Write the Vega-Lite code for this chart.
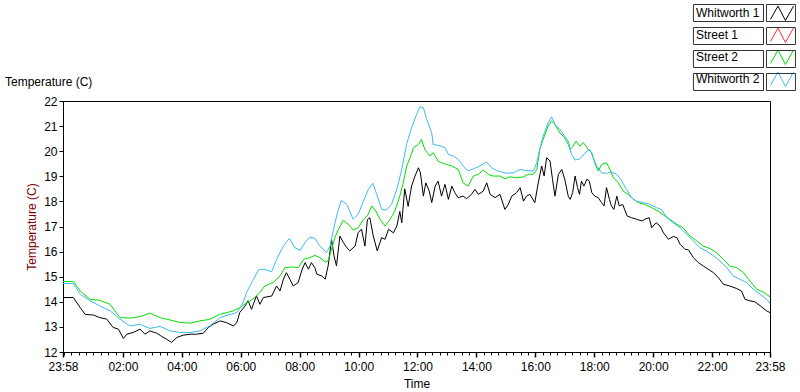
{
"$schema":"https://vega.github.io/schema/vega-lite/v6.json",
"width":707,"height":251,
"autosize":{"type":"none"},
"padding":{"left":63,"top":101,"right":30,"bottom":39},
"background":"white",
"title":{"text":"Temperature (C)","anchor":"start","frame":"group","dx":-58,"offset":-100,"baseline":"bottom","fontSize":12,"font":"Liberation Sans","fontWeight":"normal","color":"black"},
"config":{"view":{"stroke":"black","strokeWidth":1},
"axis":{"grid":false,"domainColor":"black","tickColor":"black","labelColor":"black","labelFont":"Liberation Sans","labelFontSize":12,"titleFont":"Liberation Sans","titleFontSize":12,"titleFontWeight":"normal","titleColor":"black"}},
"datasets":{"d":[
{"s":"Whitworth 1","t":"2024-01-01T23:58","v":14.17},
{"s":"Whitworth 1","t":"2024-01-02T00:19","v":14.17},
{"s":"Whitworth 1","t":"2024-01-02T00:33","v":13.77},
{"s":"Whitworth 1","t":"2024-01-02T00:43","v":13.5},
{"s":"Whitworth 1","t":"2024-01-02T01:00","v":13.47},
{"s":"Whitworth 1","t":"2024-01-02T01:13","v":13.37},
{"s":"Whitworth 1","t":"2024-01-02T01:27","v":13.31},
{"s":"Whitworth 1","t":"2024-01-02T01:40","v":12.98},
{"s":"Whitworth 1","t":"2024-01-02T01:51","v":12.91},
{"s":"Whitworth 1","t":"2024-01-02T02:01","v":12.54},
{"s":"Whitworth 1","t":"2024-01-02T02:08","v":12.71},
{"s":"Whitworth 1","t":"2024-01-02T02:21","v":12.78},
{"s":"Whitworth 1","t":"2024-01-02T02:35","v":12.91},
{"s":"Whitworth 1","t":"2024-01-02T02:45","v":12.71},
{"s":"Whitworth 1","t":"2024-01-02T02:55","v":12.84},
{"s":"Whitworth 1","t":"2024-01-02T03:09","v":12.75},
{"s":"Whitworth 1","t":"2024-01-02T03:19","v":12.62},
{"s":"Whitworth 1","t":"2024-01-02T03:29","v":12.51},
{"s":"Whitworth 1","t":"2024-01-02T03:39","v":12.38},
{"s":"Whitworth 1","t":"2024-01-02T03:50","v":12.58},
{"s":"Whitworth 1","t":"2024-01-02T04:03","v":12.67},
{"s":"Whitworth 1","t":"2024-01-02T04:17","v":12.71},
{"s":"Whitworth 1","t":"2024-01-02T04:30","v":12.71},
{"s":"Whitworth 1","t":"2024-01-02T04:44","v":12.75},
{"s":"Whitworth 1","t":"2024-01-02T04:54","v":12.98},
{"s":"Whitworth 1","t":"2024-01-02T05:04","v":13.11},
{"s":"Whitworth 1","t":"2024-01-02T05:18","v":13.24},
{"s":"Whitworth 1","t":"2024-01-02T05:31","v":13.17},
{"s":"Whitworth 1","t":"2024-01-02T05:45","v":13.04},
{"s":"Whitworth 1","t":"2024-01-02T05:52","v":13.17},
{"s":"Whitworth 1","t":"2024-01-02T05:58","v":13.57},
{"s":"Whitworth 1","t":"2024-01-02T06:09","v":13.84},
{"s":"Whitworth 1","t":"2024-01-02T06:15","v":14.04},
{"s":"Whitworth 1","t":"2024-01-02T06:22","v":13.7},
{"s":"Whitworth 1","t":"2024-01-02T06:32","v":14.24},
{"s":"Whitworth 1","t":"2024-01-02T06:39","v":13.9},
{"s":"Whitworth 1","t":"2024-01-02T06:46","v":14.17},
{"s":"Whitworth 1","t":"2024-01-02T07:03","v":14.23},
{"s":"Whitworth 1","t":"2024-01-02T07:13","v":14.63},
{"s":"Whitworth 1","t":"2024-01-02T07:20","v":14.43},
{"s":"Whitworth 1","t":"2024-01-02T07:27","v":14.9},
{"s":"Whitworth 1","t":"2024-01-02T07:33","v":15.16},
{"s":"Whitworth 1","t":"2024-01-02T07:40","v":14.9},
{"s":"Whitworth 1","t":"2024-01-02T07:47","v":14.63},
{"s":"Whitworth 1","t":"2024-01-02T07:57","v":14.77},
{"s":"Whitworth 1","t":"2024-01-02T08:04","v":15.23},
{"s":"Whitworth 1","t":"2024-01-02T08:11","v":15.56},
{"s":"Whitworth 1","t":"2024-01-02T08:18","v":15.3},
{"s":"Whitworth 1","t":"2024-01-02T08:24","v":15.56},
{"s":"Whitworth 1","t":"2024-01-02T08:31","v":15.36},
{"s":"Whitworth 1","t":"2024-01-02T08:35","v":15.1},
{"s":"Whitworth 1","t":"2024-01-02T08:45","v":15.03},
{"s":"Whitworth 1","t":"2024-01-02T08:52","v":14.9},
{"s":"Whitworth 1","t":"2024-01-02T08:58","v":15.43},
{"s":"Whitworth 1","t":"2024-01-02T09:05","v":16.49},
{"s":"Whitworth 1","t":"2024-01-02T09:10","v":15.83},
{"s":"Whitworth 1","t":"2024-01-02T09:15","v":15.43},
{"s":"Whitworth 1","t":"2024-01-02T09:22","v":16.62},
{"s":"Whitworth 1","t":"2024-01-02T09:29","v":16.36},
{"s":"Whitworth 1","t":"2024-01-02T09:36","v":16.16},
{"s":"Whitworth 1","t":"2024-01-02T09:42","v":16.03},
{"s":"Whitworth 1","t":"2024-01-02T09:53","v":16.22},
{"s":"Whitworth 1","t":"2024-01-02T09:59","v":16.75},
{"s":"Whitworth 1","t":"2024-01-02T10:06","v":16.89},
{"s":"Whitworth 1","t":"2024-01-02T10:13","v":16.22},
{"s":"Whitworth 1","t":"2024-01-02T10:18","v":17.28},
{"s":"Whitworth 1","t":"2024-01-02T10:23","v":17.35},
{"s":"Whitworth 1","t":"2024-01-02T10:30","v":16.62},
{"s":"Whitworth 1","t":"2024-01-02T10:38","v":16.03},
{"s":"Whitworth 1","t":"2024-01-02T10:47","v":16.56},
{"s":"Whitworth 1","t":"2024-01-02T10:54","v":16.49},
{"s":"Whitworth 1","t":"2024-01-02T11:01","v":16.89},
{"s":"Whitworth 1","t":"2024-01-02T11:11","v":16.75},
{"s":"Whitworth 1","t":"2024-01-02T11:18","v":17.02},
{"s":"Whitworth 1","t":"2024-01-02T11:24","v":17.6},
{"s":"Whitworth 1","t":"2024-01-02T11:28","v":17.15},
{"s":"Whitworth 1","t":"2024-01-02T11:34","v":18.5},
{"s":"Whitworth 1","t":"2024-01-02T11:41","v":17.8},
{"s":"Whitworth 1","t":"2024-01-02T11:48","v":18.61},
{"s":"Whitworth 1","t":"2024-01-02T11:55","v":19.01},
{"s":"Whitworth 1","t":"2024-01-02T12:02","v":19.34},
{"s":"Whitworth 1","t":"2024-01-02T12:06","v":19.14},
{"s":"Whitworth 1","t":"2024-01-02T12:12","v":18.21},
{"s":"Whitworth 1","t":"2024-01-02T12:17","v":18.74},
{"s":"Whitworth 1","t":"2024-01-02T12:24","v":18.41},
{"s":"Whitworth 1","t":"2024-01-02T12:29","v":17.95},
{"s":"Whitworth 1","t":"2024-01-02T12:36","v":18.61},
{"s":"Whitworth 1","t":"2024-01-02T12:42","v":18.81},
{"s":"Whitworth 1","t":"2024-01-02T12:49","v":18.21},
{"s":"Whitworth 1","t":"2024-01-02T12:56","v":18.68},
{"s":"Whitworth 1","t":"2024-01-02T13:03","v":18.08},
{"s":"Whitworth 1","t":"2024-01-02T13:10","v":18.61},
{"s":"Whitworth 1","t":"2024-01-02T13:16","v":18.35},
{"s":"Whitworth 1","t":"2024-01-02T13:23","v":18.15},
{"s":"Whitworth 1","t":"2024-01-02T13:33","v":18.21},
{"s":"Whitworth 1","t":"2024-01-02T13:40","v":18.11},
{"s":"Whitworth 1","t":"2024-01-02T13:50","v":18.28},
{"s":"Whitworth 1","t":"2024-01-02T13:57","v":18.48},
{"s":"Whitworth 1","t":"2024-01-02T14:04","v":18.28},
{"s":"Whitworth 1","t":"2024-01-02T14:14","v":18.41},
{"s":"Whitworth 1","t":"2024-01-02T14:21","v":18.74},
{"s":"Whitworth 1","t":"2024-01-02T14:28","v":18.28},
{"s":"Whitworth 1","t":"2024-01-02T14:38","v":18.15},
{"s":"Whitworth 1","t":"2024-01-02T14:48","v":18.28},
{"s":"Whitworth 1","t":"2024-01-02T14:58","v":17.68},
{"s":"Whitworth 1","t":"2024-01-02T15:05","v":17.88},
{"s":"Whitworth 1","t":"2024-01-02T15:12","v":18.21},
{"s":"Whitworth 1","t":"2024-01-02T15:22","v":18.35},
{"s":"Whitworth 1","t":"2024-01-02T15:29","v":18.55},
{"s":"Whitworth 1","t":"2024-01-02T15:36","v":18.01},
{"s":"Whitworth 1","t":"2024-01-02T15:42","v":18.21},
{"s":"Whitworth 1","t":"2024-01-02T15:49","v":18.28},
{"s":"Whitworth 1","t":"2024-01-02T15:59","v":17.95},
{"s":"Whitworth 1","t":"2024-01-02T16:06","v":18.74},
{"s":"Whitworth 1","t":"2024-01-02T16:13","v":19.41},
{"s":"Whitworth 1","t":"2024-01-02T16:18","v":19.01},
{"s":"Whitworth 1","t":"2024-01-02T16:23","v":19.74},
{"s":"Whitworth 1","t":"2024-01-02T16:30","v":19.61},
{"s":"Whitworth 1","t":"2024-01-02T16:35","v":18.88},
{"s":"Whitworth 1","t":"2024-01-02T16:40","v":18.21},
{"s":"Whitworth 1","t":"2024-01-02T16:47","v":19.08},
{"s":"Whitworth 1","t":"2024-01-02T16:54","v":19.27},
{"s":"Whitworth 1","t":"2024-01-02T17:00","v":18.88},
{"s":"Whitworth 1","t":"2024-01-02T17:07","v":18.21},
{"s":"Whitworth 1","t":"2024-01-02T17:11","v":18.08},
{"s":"Whitworth 1","t":"2024-01-02T17:16","v":18.35},
{"s":"Whitworth 1","t":"2024-01-02T17:21","v":19.01},
{"s":"Whitworth 1","t":"2024-01-02T17:26","v":18.55},
{"s":"Whitworth 1","t":"2024-01-02T17:30","v":18.28},
{"s":"Whitworth 1","t":"2024-01-02T17:34","v":18.81},
{"s":"Whitworth 1","t":"2024-01-02T17:39","v":18.61},
{"s":"Whitworth 1","t":"2024-01-02T17:45","v":18.88},
{"s":"Whitworth 1","t":"2024-01-02T17:50","v":18.81},
{"s":"Whitworth 1","t":"2024-01-02T17:55","v":18.35},
{"s":"Whitworth 1","t":"2024-01-02T18:01","v":18.21},
{"s":"Whitworth 1","t":"2024-01-02T18:08","v":18.15},
{"s":"Whitworth 1","t":"2024-01-02T18:15","v":17.95},
{"s":"Whitworth 1","t":"2024-01-02T18:20","v":17.82},
{"s":"Whitworth 1","t":"2024-01-02T18:25","v":18.55},
{"s":"Whitworth 1","t":"2024-01-02T18:31","v":18.08},
{"s":"Whitworth 1","t":"2024-01-02T18:35","v":17.82},
{"s":"Whitworth 1","t":"2024-01-02T18:40","v":17.68},
{"s":"Whitworth 1","t":"2024-01-02T18:46","v":18.21},
{"s":"Whitworth 1","t":"2024-01-02T18:51","v":17.82},
{"s":"Whitworth 1","t":"2024-01-02T18:58","v":17.88},
{"s":"Whitworth 1","t":"2024-01-02T19:03","v":17.62},
{"s":"Whitworth 1","t":"2024-01-02T19:07","v":17.42},
{"s":"Whitworth 1","t":"2024-01-02T19:16","v":17.35},
{"s":"Whitworth 1","t":"2024-01-02T19:26","v":17.29},
{"s":"Whitworth 1","t":"2024-01-02T19:37","v":17.22},
{"s":"Whitworth 1","t":"2024-01-02T19:43","v":17.29},
{"s":"Whitworth 1","t":"2024-01-02T19:52","v":17.35},
{"s":"Whitworth 1","t":"2024-01-02T19:57","v":16.95},
{"s":"Whitworth 1","t":"2024-01-02T20:06","v":17.15},
{"s":"Whitworth 1","t":"2024-01-02T20:14","v":17.02},
{"s":"Whitworth 1","t":"2024-01-02T20:21","v":16.75},
{"s":"Whitworth 1","t":"2024-01-02T20:31","v":16.49},
{"s":"Whitworth 1","t":"2024-01-02T20:41","v":16.6},
{"s":"Whitworth 1","t":"2024-01-02T20:48","v":16.56},
{"s":"Whitworth 1","t":"2024-01-02T20:55","v":16.29},
{"s":"Whitworth 1","t":"2024-01-02T21:05","v":16.09},
{"s":"Whitworth 1","t":"2024-01-02T21:12","v":16.07},
{"s":"Whitworth 1","t":"2024-01-02T21:22","v":15.76},
{"s":"Whitworth 1","t":"2024-01-02T21:32","v":15.56},
{"s":"Whitworth 1","t":"2024-01-02T21:42","v":15.43},
{"s":"Whitworth 1","t":"2024-01-02T21:52","v":15.3},
{"s":"Whitworth 1","t":"2024-01-02T22:03","v":15.16},
{"s":"Whitworth 1","t":"2024-01-02T22:13","v":14.96},
{"s":"Whitworth 1","t":"2024-01-02T22:23","v":14.7},
{"s":"Whitworth 1","t":"2024-01-02T22:36","v":14.63},
{"s":"Whitworth 1","t":"2024-01-02T22:50","v":14.53},
{"s":"Whitworth 1","t":"2024-01-02T23:00","v":14.43},
{"s":"Whitworth 1","t":"2024-01-02T23:07","v":14.1},
{"s":"Whitworth 1","t":"2024-01-02T23:17","v":14.04},
{"s":"Whitworth 1","t":"2024-01-02T23:27","v":14.0},
{"s":"Whitworth 1","t":"2024-01-02T23:38","v":13.84},
{"s":"Whitworth 1","t":"2024-01-02T23:51","v":13.64},
{"s":"Whitworth 1","t":"2024-01-02T23:58","v":13.57},
{"s":"Street 2","t":"2024-01-01T23:58","v":14.81},
{"s":"Street 2","t":"2024-01-02T00:19","v":14.81},
{"s":"Street 2","t":"2024-01-02T00:33","v":14.43},
{"s":"Street 2","t":"2024-01-02T00:53","v":14.1},
{"s":"Street 2","t":"2024-01-02T01:13","v":14.06},
{"s":"Street 2","t":"2024-01-02T01:34","v":13.9},
{"s":"Street 2","t":"2024-01-02T01:54","v":13.37},
{"s":"Street 2","t":"2024-01-02T02:14","v":13.35},
{"s":"Street 2","t":"2024-01-02T02:35","v":13.41},
{"s":"Street 2","t":"2024-01-02T02:55","v":13.55},
{"s":"Street 2","t":"2024-01-02T03:16","v":13.37},
{"s":"Street 2","t":"2024-01-02T03:56","v":13.18},
{"s":"Street 2","t":"2024-01-02T04:17","v":13.15},
{"s":"Street 2","t":"2024-01-02T04:37","v":13.24},
{"s":"Street 2","t":"2024-01-02T04:57","v":13.3},
{"s":"Street 2","t":"2024-01-02T05:18","v":13.5},
{"s":"Street 2","t":"2024-01-02T05:45","v":13.64},
{"s":"Street 2","t":"2024-01-02T05:58","v":13.77},
{"s":"Street 2","t":"2024-01-02T06:19","v":14.04},
{"s":"Street 2","t":"2024-01-02T06:29","v":14.17},
{"s":"Street 2","t":"2024-01-02T06:39","v":14.37},
{"s":"Street 2","t":"2024-01-02T06:49","v":14.63},
{"s":"Street 2","t":"2024-01-02T07:06","v":14.77},
{"s":"Street 2","t":"2024-01-02T07:20","v":15.03},
{"s":"Street 2","t":"2024-01-02T07:30","v":15.36},
{"s":"Street 2","t":"2024-01-02T07:44","v":15.39},
{"s":"Street 2","t":"2024-01-02T07:57","v":15.36},
{"s":"Street 2","t":"2024-01-02T08:08","v":15.69},
{"s":"Street 2","t":"2024-01-02T08:21","v":15.76},
{"s":"Street 2","t":"2024-01-02T08:31","v":15.85},
{"s":"Street 2","t":"2024-01-02T08:41","v":15.76},
{"s":"Street 2","t":"2024-01-02T08:52","v":15.59},
{"s":"Street 2","t":"2024-01-02T08:58","v":15.63},
{"s":"Street 2","t":"2024-01-02T09:05","v":16.09},
{"s":"Street 2","t":"2024-01-02T09:12","v":16.56},
{"s":"Street 2","t":"2024-01-02T09:19","v":16.89},
{"s":"Street 2","t":"2024-01-02T09:29","v":17.25},
{"s":"Street 2","t":"2024-01-02T09:39","v":17.09},
{"s":"Street 2","t":"2024-01-02T09:49","v":16.86},
{"s":"Street 2","t":"2024-01-02T09:59","v":16.95},
{"s":"Street 2","t":"2024-01-02T10:10","v":17.28},
{"s":"Street 2","t":"2024-01-02T10:19","v":17.46},
{"s":"Street 2","t":"2024-01-02T10:27","v":17.82},
{"s":"Street 2","t":"2024-01-02T10:35","v":17.62},
{"s":"Street 2","t":"2024-01-02T10:44","v":17.28},
{"s":"Street 2","t":"2024-01-02T10:54","v":17.02},
{"s":"Street 2","t":"2024-01-02T11:04","v":17.28},
{"s":"Street 2","t":"2024-01-02T11:14","v":17.62},
{"s":"Street 2","t":"2024-01-02T11:24","v":18.21},
{"s":"Street 2","t":"2024-01-02T11:31","v":18.74},
{"s":"Street 2","t":"2024-01-02T11:38","v":19.41},
{"s":"Street 2","t":"2024-01-02T11:45","v":19.74},
{"s":"Street 2","t":"2024-01-02T11:52","v":20.14},
{"s":"Street 2","t":"2024-01-02T12:02","v":20.27},
{"s":"Street 2","t":"2024-01-02T12:08","v":20.47},
{"s":"Street 2","t":"2024-01-02T12:15","v":20.07},
{"s":"Street 2","t":"2024-01-02T12:25","v":19.81},
{"s":"Street 2","t":"2024-01-02T12:32","v":19.94},
{"s":"Street 2","t":"2024-01-02T12:42","v":19.61},
{"s":"Street 2","t":"2024-01-02T12:49","v":19.54},
{"s":"Street 2","t":"2024-01-02T12:59","v":19.47},
{"s":"Street 2","t":"2024-01-02T13:10","v":19.41},
{"s":"Street 2","t":"2024-01-02T13:23","v":19.27},
{"s":"Street 2","t":"2024-01-02T13:33","v":18.74},
{"s":"Street 2","t":"2024-01-02T13:43","v":18.61},
{"s":"Street 2","t":"2024-01-02T13:54","v":19.01},
{"s":"Street 2","t":"2024-01-02T14:04","v":19.08},
{"s":"Street 2","t":"2024-01-02T14:14","v":19.25},
{"s":"Street 2","t":"2024-01-02T14:24","v":19.08},
{"s":"Street 2","t":"2024-01-02T14:34","v":19.01},
{"s":"Street 2","t":"2024-01-02T14:48","v":19.01},
{"s":"Street 2","t":"2024-01-02T14:58","v":18.9},
{"s":"Street 2","t":"2024-01-02T15:08","v":18.98},
{"s":"Street 2","t":"2024-01-02T15:22","v":18.94},
{"s":"Street 2","t":"2024-01-02T15:36","v":18.98},
{"s":"Street 2","t":"2024-01-02T15:46","v":19.08},
{"s":"Street 2","t":"2024-01-02T15:56","v":19.08},
{"s":"Street 2","t":"2024-01-02T16:03","v":19.27},
{"s":"Street 2","t":"2024-01-02T16:09","v":20.07},
{"s":"Street 2","t":"2024-01-02T16:16","v":20.47},
{"s":"Street 2","t":"2024-01-02T16:26","v":21.0},
{"s":"Street 2","t":"2024-01-02T16:33","v":21.2},
{"s":"Street 2","t":"2024-01-02T16:40","v":21.07},
{"s":"Street 2","t":"2024-01-02T16:50","v":20.73},
{"s":"Street 2","t":"2024-01-02T17:00","v":20.53},
{"s":"Street 2","t":"2024-01-02T17:07","v":20.27},
{"s":"Street 2","t":"2024-01-02T17:11","v":20.07},
{"s":"Street 2","t":"2024-01-02T17:17","v":20.2},
{"s":"Street 2","t":"2024-01-02T17:23","v":20.4},
{"s":"Street 2","t":"2024-01-02T17:31","v":20.2},
{"s":"Street 2","t":"2024-01-02T17:38","v":20.34},
{"s":"Street 2","t":"2024-01-02T17:48","v":20.07},
{"s":"Street 2","t":"2024-01-02T17:55","v":19.94},
{"s":"Street 2","t":"2024-01-02T18:01","v":19.54},
{"s":"Street 2","t":"2024-01-02T18:08","v":19.21},
{"s":"Street 2","t":"2024-01-02T18:15","v":19.47},
{"s":"Street 2","t":"2024-01-02T18:25","v":19.54},
{"s":"Street 2","t":"2024-01-02T18:32","v":19.27},
{"s":"Street 2","t":"2024-01-02T18:39","v":18.94},
{"s":"Street 2","t":"2024-01-02T18:49","v":18.74},
{"s":"Street 2","t":"2024-01-02T18:59","v":18.41},
{"s":"Street 2","t":"2024-01-02T19:09","v":18.28},
{"s":"Street 2","t":"2024-01-02T19:20","v":18.08},
{"s":"Street 2","t":"2024-01-02T19:30","v":17.95},
{"s":"Street 2","t":"2024-01-02T19:43","v":17.88},
{"s":"Street 2","t":"2024-01-02T19:57","v":17.75},
{"s":"Street 2","t":"2024-01-02T20:10","v":17.62},
{"s":"Street 2","t":"2024-01-02T20:24","v":17.42},
{"s":"Street 2","t":"2024-01-02T20:34","v":17.29},
{"s":"Street 2","t":"2024-01-02T20:48","v":17.09},
{"s":"Street 2","t":"2024-01-02T21:01","v":16.95},
{"s":"Street 2","t":"2024-01-02T21:15","v":16.62},
{"s":"Street 2","t":"2024-01-02T21:29","v":16.42},
{"s":"Street 2","t":"2024-01-02T21:42","v":16.22},
{"s":"Street 2","t":"2024-01-02T21:56","v":16.12},
{"s":"Street 2","t":"2024-01-02T22:09","v":15.96},
{"s":"Street 2","t":"2024-01-02T22:23","v":15.69},
{"s":"Street 2","t":"2024-01-02T22:36","v":15.43},
{"s":"Street 2","t":"2024-01-02T22:50","v":15.36},
{"s":"Street 2","t":"2024-01-02T23:04","v":15.16},
{"s":"Street 2","t":"2024-01-02T23:17","v":14.83},
{"s":"Street 2","t":"2024-01-02T23:31","v":14.5},
{"s":"Street 2","t":"2024-01-02T23:44","v":14.39},
{"s":"Street 2","t":"2024-01-02T23:58","v":14.2},
{"s":"Whitworth 2","t":"2024-01-01T23:58","v":14.73},
{"s":"Whitworth 2","t":"2024-01-02T00:19","v":14.73},
{"s":"Whitworth 2","t":"2024-01-02T00:33","v":14.3},
{"s":"Whitworth 2","t":"2024-01-02T00:53","v":14.04},
{"s":"Whitworth 2","t":"2024-01-02T01:13","v":13.84},
{"s":"Whitworth 2","t":"2024-01-02T01:34","v":13.64},
{"s":"Whitworth 2","t":"2024-01-02T01:54","v":13.31},
{"s":"Whitworth 2","t":"2024-01-02T02:14","v":13.04},
{"s":"Whitworth 2","t":"2024-01-02T02:35","v":13.1},
{"s":"Whitworth 2","t":"2024-01-02T02:55","v":12.94},
{"s":"Whitworth 2","t":"2024-01-02T03:16","v":13.02},
{"s":"Whitworth 2","t":"2024-01-02T03:36","v":12.84},
{"s":"Whitworth 2","t":"2024-01-02T03:56","v":12.78},
{"s":"Whitworth 2","t":"2024-01-02T04:17","v":12.78},
{"s":"Whitworth 2","t":"2024-01-02T04:37","v":12.84},
{"s":"Whitworth 2","t":"2024-01-02T04:57","v":13.04},
{"s":"Whitworth 2","t":"2024-01-02T05:18","v":13.37},
{"s":"Whitworth 2","t":"2024-01-02T05:38","v":13.5},
{"s":"Whitworth 2","t":"2024-01-02T05:52","v":13.57},
{"s":"Whitworth 2","t":"2024-01-02T06:02","v":13.84},
{"s":"Whitworth 2","t":"2024-01-02T06:12","v":14.37},
{"s":"Whitworth 2","t":"2024-01-02T06:26","v":14.9},
{"s":"Whitworth 2","t":"2024-01-02T06:36","v":15.27},
{"s":"Whitworth 2","t":"2024-01-02T06:46","v":15.3},
{"s":"Whitworth 2","t":"2024-01-02T07:03","v":15.2},
{"s":"Whitworth 2","t":"2024-01-02T07:13","v":15.69},
{"s":"Whitworth 2","t":"2024-01-02T07:27","v":16.22},
{"s":"Whitworth 2","t":"2024-01-02T07:39","v":16.53},
{"s":"Whitworth 2","t":"2024-01-02T07:50","v":16.16},
{"s":"Whitworth 2","t":"2024-01-02T08:01","v":16.05},
{"s":"Whitworth 2","t":"2024-01-02T08:11","v":16.36},
{"s":"Whitworth 2","t":"2024-01-02T08:21","v":16.58},
{"s":"Whitworth 2","t":"2024-01-02T08:31","v":16.53},
{"s":"Whitworth 2","t":"2024-01-02T08:41","v":16.22},
{"s":"Whitworth 2","t":"2024-01-02T08:55","v":15.96},
{"s":"Whitworth 2","t":"2024-01-02T09:02","v":16.22},
{"s":"Whitworth 2","t":"2024-01-02T09:09","v":16.89},
{"s":"Whitworth 2","t":"2024-01-02T09:17","v":17.55},
{"s":"Whitworth 2","t":"2024-01-02T09:25","v":18.04},
{"s":"Whitworth 2","t":"2024-01-02T09:36","v":17.88},
{"s":"Whitworth 2","t":"2024-01-02T09:49","v":17.29},
{"s":"Whitworth 2","t":"2024-01-02T09:59","v":17.48},
{"s":"Whitworth 2","t":"2024-01-02T10:10","v":18.01},
{"s":"Whitworth 2","t":"2024-01-02T10:20","v":18.48},
{"s":"Whitworth 2","t":"2024-01-02T10:29","v":18.72},
{"s":"Whitworth 2","t":"2024-01-02T10:37","v":18.28},
{"s":"Whitworth 2","t":"2024-01-02T10:47","v":17.68},
{"s":"Whitworth 2","t":"2024-01-02T10:57","v":17.66},
{"s":"Whitworth 2","t":"2024-01-02T11:07","v":17.88},
{"s":"Whitworth 2","t":"2024-01-02T11:18","v":18.48},
{"s":"Whitworth 2","t":"2024-01-02T11:28","v":19.28},
{"s":"Whitworth 2","t":"2024-01-02T11:38","v":20.3},
{"s":"Whitworth 2","t":"2024-01-02T11:48","v":20.93},
{"s":"Whitworth 2","t":"2024-01-02T11:58","v":21.46},
{"s":"Whitworth 2","t":"2024-01-02T12:05","v":21.77},
{"s":"Whitworth 2","t":"2024-01-02T12:12","v":21.73},
{"s":"Whitworth 2","t":"2024-01-02T12:19","v":21.26},
{"s":"Whitworth 2","t":"2024-01-02T12:29","v":20.73},
{"s":"Whitworth 2","t":"2024-01-02T12:32","v":20.27},
{"s":"Whitworth 2","t":"2024-01-02T12:42","v":20.23},
{"s":"Whitworth 2","t":"2024-01-02T12:56","v":20.14},
{"s":"Whitworth 2","t":"2024-01-02T13:03","v":19.87},
{"s":"Whitworth 2","t":"2024-01-02T13:13","v":19.81},
{"s":"Whitworth 2","t":"2024-01-02T13:23","v":19.67},
{"s":"Whitworth 2","t":"2024-01-02T13:33","v":19.41},
{"s":"Whitworth 2","t":"2024-01-02T13:43","v":19.21},
{"s":"Whitworth 2","t":"2024-01-02T13:54","v":19.3},
{"s":"Whitworth 2","t":"2024-01-02T14:07","v":19.41},
{"s":"Whitworth 2","t":"2024-01-02T14:21","v":19.57},
{"s":"Whitworth 2","t":"2024-01-02T14:31","v":19.34},
{"s":"Whitworth 2","t":"2024-01-02T14:41","v":19.23},
{"s":"Whitworth 2","t":"2024-01-02T14:51","v":19.17},
{"s":"Whitworth 2","t":"2024-01-02T15:02","v":19.12},
{"s":"Whitworth 2","t":"2024-01-02T15:15","v":19.14},
{"s":"Whitworth 2","t":"2024-01-02T15:29","v":19.27},
{"s":"Whitworth 2","t":"2024-01-02T15:42","v":19.23},
{"s":"Whitworth 2","t":"2024-01-02T15:56","v":19.21},
{"s":"Whitworth 2","t":"2024-01-02T16:03","v":19.54},
{"s":"Whitworth 2","t":"2024-01-02T16:09","v":20.07},
{"s":"Whitworth 2","t":"2024-01-02T16:16","v":20.6},
{"s":"Whitworth 2","t":"2024-01-02T16:26","v":21.13},
{"s":"Whitworth 2","t":"2024-01-02T16:33","v":21.37},
{"s":"Whitworth 2","t":"2024-01-02T16:40","v":21.07},
{"s":"Whitworth 2","t":"2024-01-02T16:50","v":20.87},
{"s":"Whitworth 2","t":"2024-01-02T17:00","v":20.6},
{"s":"Whitworth 2","t":"2024-01-02T17:07","v":20.4},
{"s":"Whitworth 2","t":"2024-01-02T17:14","v":19.87},
{"s":"Whitworth 2","t":"2024-01-02T17:21","v":19.65},
{"s":"Whitworth 2","t":"2024-01-02T17:31","v":19.7},
{"s":"Whitworth 2","t":"2024-01-02T17:45","v":20.0},
{"s":"Whitworth 2","t":"2024-01-02T17:51","v":20.07},
{"s":"Whitworth 2","t":"2024-01-02T17:58","v":19.74},
{"s":"Whitworth 2","t":"2024-01-02T18:05","v":19.41},
{"s":"Whitworth 2","t":"2024-01-02T18:15","v":19.14},
{"s":"Whitworth 2","t":"2024-01-02T18:25","v":19.12},
{"s":"Whitworth 2","t":"2024-01-02T18:35","v":19.17},
{"s":"Whitworth 2","t":"2024-01-02T18:46","v":19.08},
{"s":"Whitworth 2","t":"2024-01-02T18:56","v":18.81},
{"s":"Whitworth 2","t":"2024-01-02T19:06","v":18.48},
{"s":"Whitworth 2","t":"2024-01-02T19:16","v":18.15},
{"s":"Whitworth 2","t":"2024-01-02T19:26","v":18.01},
{"s":"Whitworth 2","t":"2024-01-02T19:40","v":17.95},
{"s":"Whitworth 2","t":"2024-01-02T19:54","v":17.88},
{"s":"Whitworth 2","t":"2024-01-02T20:07","v":17.75},
{"s":"Whitworth 2","t":"2024-01-02T20:17","v":17.68},
{"s":"Whitworth 2","t":"2024-01-02T20:28","v":17.35},
{"s":"Whitworth 2","t":"2024-01-02T20:41","v":17.15},
{"s":"Whitworth 2","t":"2024-01-02T20:55","v":16.95},
{"s":"Whitworth 2","t":"2024-01-02T21:08","v":16.69},
{"s":"Whitworth 2","t":"2024-01-02T21:22","v":16.42},
{"s":"Whitworth 2","t":"2024-01-02T21:35","v":16.16},
{"s":"Whitworth 2","t":"2024-01-02T21:49","v":16.02},
{"s":"Whitworth 2","t":"2024-01-02T22:03","v":15.83},
{"s":"Whitworth 2","t":"2024-01-02T22:16","v":15.63},
{"s":"Whitworth 2","t":"2024-01-02T22:30","v":15.36},
{"s":"Whitworth 2","t":"2024-01-02T22:43","v":15.03},
{"s":"Whitworth 2","t":"2024-01-02T22:57","v":14.9},
{"s":"Whitworth 2","t":"2024-01-02T23:10","v":14.77},
{"s":"Whitworth 2","t":"2024-01-02T23:24","v":14.5},
{"s":"Whitworth 2","t":"2024-01-02T23:38","v":14.3},
{"s":"Whitworth 2","t":"2024-01-02T23:51","v":14.1},
{"s":"Whitworth 2","t":"2024-01-02T23:58","v":13.95}
]},
"data":{"name":"d"},
"resolve":{"axis":{"x":"independent"}},
"layer":[
{"mark":{"type":"line","opacity":0},
"encoding":{
"x":{"field":"t","type":"temporal","scale":{"domain":[{"year":2024,"month":1,"date":1,"hours":23,"minutes":58},{"year":2024,"month":1,"date":2,"hours":23,"minutes":58}],"nice":false},
"axis":{"orient":"bottom","tickCount":96,"labels":false,"title":null,"tickSize":3,"domain":false}},
"y":{"field":"v","type":"quantitative",
"axis":{"values":[12,13,14,15,16,17,18,19,20,21,22],"labelOverlap":false,"tickSize":4,"labelPadding":2,"title":"Temperature (C)","titleColor":"#800000","titlePadding":5}},
"detail":{"field":"s"}}},
{"mark":{"type":"line","strokeWidth":1},
"encoding":{
"x":{"field":"t","type":"temporal",
"axis":{"orient":"bottom","values":[
{"year":2024,"month":1,"date":1,"hours":23,"minutes":58},
{"year":2024,"month":1,"date":2,"hours":2},
{"year":2024,"month":1,"date":2,"hours":4},
{"year":2024,"month":1,"date":2,"hours":6},
{"year":2024,"month":1,"date":2,"hours":8},
{"year":2024,"month":1,"date":2,"hours":10},
{"year":2024,"month":1,"date":2,"hours":12},
{"year":2024,"month":1,"date":2,"hours":14},
{"year":2024,"month":1,"date":2,"hours":16},
{"year":2024,"month":1,"date":2,"hours":18},
{"year":2024,"month":1,"date":2,"hours":20},
{"year":2024,"month":1,"date":2,"hours":22},
{"year":2024,"month":1,"date":2,"hours":23,"minutes":58}],
"format":"%H:%M","labelFlush":false,"labelOverlap":false,"tickSize":5,"tickWidth":1.5,"labelPadding":4,"title":"Time","titlePadding":6}},
"y":{"field":"v","type":"quantitative","scale":{"domain":[12,22],"nice":false,"zero":false},
"axis":{"values":[12,13,14,15,16,17,18,19,20,21,22],"labelOverlap":false,"tickSize":4,"labelPadding":2,"title":"Temperature (C)","titleColor":"#800000","titlePadding":5}},
"stroke":{"field":"s","type":"nominal",
"scale":{"domain":["Whitworth 1","Street 1","Street 2","Whitworth 2"],"range":["#000000","#ff3030","#00e000","#3dbaf5"]},
"legend":{"orient":"none","legendX":707,"legendY":-100,"title":null,"symbolType":"M-1,0.55L-0.35,-0.6L0.3,0.65L1,-0.6","symbolSize":529,"symbolStrokeWidth":1,"labelOffset":-98,"labelFont":"Liberation Sans","labelFontSize":12,"labelColor":"black","rowPadding":0,"padding":0}}}},
{"data":{"values":[{"box":"Whitworth 1"},{"box":"Street 1"},{"box":"Street 2"},{"box":"Whitworth 2"}]},
"mark":{"type":"point","opacity":0,"filled":false},
"encoding":{
"shape":{"field":"box","type":"nominal",
"scale":{"range":["M-1.35,-0.74L1.17,-0.74L1.17,0.74L-1.35,0.74Z M-7.7,-0.74L-1.61,-0.74L-1.61,0.74L-7.7,0.74Z"]},
"legend":{"orient":"none","legendX":707,"legendY":-100,"title":null,"symbolSize":529,"symbolStrokeWidth":1,"symbolStrokeColor":"#333333","symbolFillColor":"transparent","symbolOpacity":1,"labelExpr":"''","rowPadding":0,"padding":0}}}}
]
}
